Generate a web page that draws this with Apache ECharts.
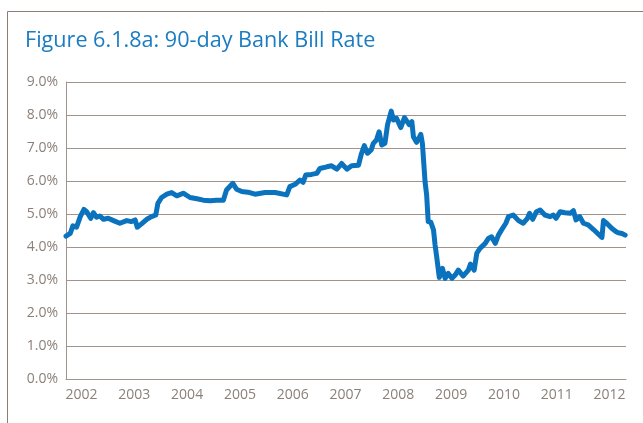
<!DOCTYPE html>
<html>
<head>
<meta charset="utf-8">
<script src="https://cdn.jsdelivr.net/npm/echarts@6/dist/echarts.min.js"></script>
<style>
html,body{margin:0;padding:0;background:#fff;}
#chart{width:643px;height:423px;}
</style>
</head>
<body>
<div id="chart"></div>
<script>
// Decimal-year dates and 90-day bank bill rate (%)
var dates = [
 2002.00,2002.08,2002.13,2002.20,2002.27,2002.34,2002.39,2002.47,2002.52,2002.58,2002.64,2002.71,2002.80,2002.90,
 2003.02,2003.15,2003.24,2003.31,2003.35,2003.43,2003.53,2003.62,2003.70,2003.74,2003.81,2003.91,
 2004.00,2004.10,2004.22,2004.35,2004.48,2004.60,2004.73,2004.85,2004.98,
 2005.04,2005.16,2005.23,2005.33,2005.48,2005.58,2005.77,2005.96,
 2006.18,2006.24,2006.34,2006.43,2006.49,2006.54,2006.65,2006.75,2006.81,2006.94,
 2007.03,2007.13,2007.22,2007.32,2007.41,2007.54,2007.59,2007.65,2007.71,2007.78,2007.82,2007.88,2007.93,2007.98,
 2008.04,2008.09,2008.16,2008.20,2008.26,2008.34,2008.41,2008.50,2008.55,2008.58,2008.64,2008.72,2008.75,2008.80,2008.83,2008.86,2008.91,2008.96,2008.99,
 2009.02,2009.07,2009.13,2009.18,2009.24,2009.31,2009.37,2009.43,2009.52,2009.62,2009.66,2009.73,2009.78,2009.84,2009.94,
 2010.00,2010.06,2010.13,2010.19,2010.25,2010.33,2010.38,2010.47,2010.57,2010.66,2010.74,2010.78,2010.84,2010.91,2010.98,
 2011.07,2011.17,2011.23,2011.28,2011.36,2011.45,2011.55,2011.61,2011.66,2011.73,2011.80,2011.89,2011.99,
 2012.07,2012.15,2012.18,2012.24,2012.34,2012.42,2012.46,2012.53,2012.59
];
var rates = [
 4.33,4.41,4.64,4.60,4.92,5.14,5.07,4.87,5.04,4.90,4.94,4.84,4.87,4.80,
 4.72,4.80,4.77,4.82,4.60,4.70,4.84,4.92,4.97,5.32,5.50,5.60,
 5.65,5.55,5.63,5.50,5.46,5.42,5.40,5.42,5.42,
 5.73,5.93,5.75,5.68,5.65,5.60,5.65,5.65,
 5.58,5.83,5.90,6.03,5.96,6.18,6.20,6.23,6.38,6.43,
 6.46,6.36,6.53,6.36,6.46,6.48,6.80,7.07,6.84,6.94,7.14,7.24,7.49,7.09,
 7.14,7.71,8.12,7.85,7.90,7.62,7.92,7.71,7.80,7.34,7.17,7.41,7.14,5.98,5.58,4.77,4.75,4.52,4.06,
 3.71,3.08,3.35,3.05,3.20,3.05,3.15,3.30,3.12,3.30,3.48,3.30,3.81,3.96,4.11,
 4.26,4.31,4.11,4.36,4.52,4.72,4.92,4.97,4.80,4.72,4.87,5.02,4.84,5.07,5.12,
 4.97,4.92,4.97,4.87,5.07,5.04,5.02,5.10,4.82,4.92,4.72,4.67,4.53,
 4.41,4.29,4.80,4.72,4.56,4.46,4.43,4.41,4.36
];
var yearLabels = [2002,2003,2004,2005,2006,2007,2008,2009,2010,2011,2012];
var yTicks = [0,1,2,3,4,5,6,7,8,9];
var titleText = 'Figure 6.1.8a: 90-day Bank Bill Rate';

var labelOffset = 0.294; // year labels sit a little after the year start
var seriesData = dates.map(function(d,i){ return [d, rates[i]]; });
var axisColor = '#a0948c';
var labelColor = '#8c8079';
var font = 'Open Sans';

var chart = echarts.init(document.getElementById('chart'), null, {renderer:'canvas'});
chart.setOption({
  animation:false,
  backgroundColor:'#ffffff',
  title:{
    text:titleText, left:25, top:30, padding:0,
    textStyle:{color:'#1a7cc1', fontSize:21.6, fontWeight:'normal', fontFamily:font}
  },
  graphic:[
    {type:'line', shape:{x1:7.5,y1:11.5,x2:643,y2:11.5}, style:{stroke:'#8a7e77', lineWidth:1}},
    {type:'line', shape:{x1:7.5,y1:11.5,x2:7.5,y2:423}, style:{stroke:'#8a7e77', lineWidth:1}}
  ],
  grid:{left:66, right:17, top:82, bottom:44, containLabel:false},
  xAxis:{
    type:'value', min:2002, max:2012.606,
    axisLine:{show:true, onZero:false, lineStyle:{color:axisColor, width:1}},
    axisTick:{show:false},
    splitLine:{show:false},
    axisLabel:{
      customValues: yearLabels.map(function(y){ return y + labelOffset; }),
      formatter:function(v){ return String(Math.floor(v)); },
      color:labelColor, fontSize:14, fontFamily:font, margin:9
    }
  },
  yAxis:{
    type:'value', min:yTicks[0], max:yTicks[yTicks.length-1], interval:1,
    axisLine:{show:true, lineStyle:{color:axisColor, width:1}},
    axisTick:{show:false},
    splitLine:{show:true, lineStyle:{color:axisColor, width:1}},
    axisLabel:{
      formatter:function(v){ return v.toFixed(1) + '%'; },
      color:labelColor, fontSize:14, fontFamily:font, margin:8,
      padding:[0,0,8,0]
    }
  },
  series:[{
    type:'line', data:seriesData, showSymbol:false, symbol:'none',
    lineStyle:{color:'#0b73bd', width:5, cap:'round', join:'round'}
  }]
});
</script>
</body>
</html>
